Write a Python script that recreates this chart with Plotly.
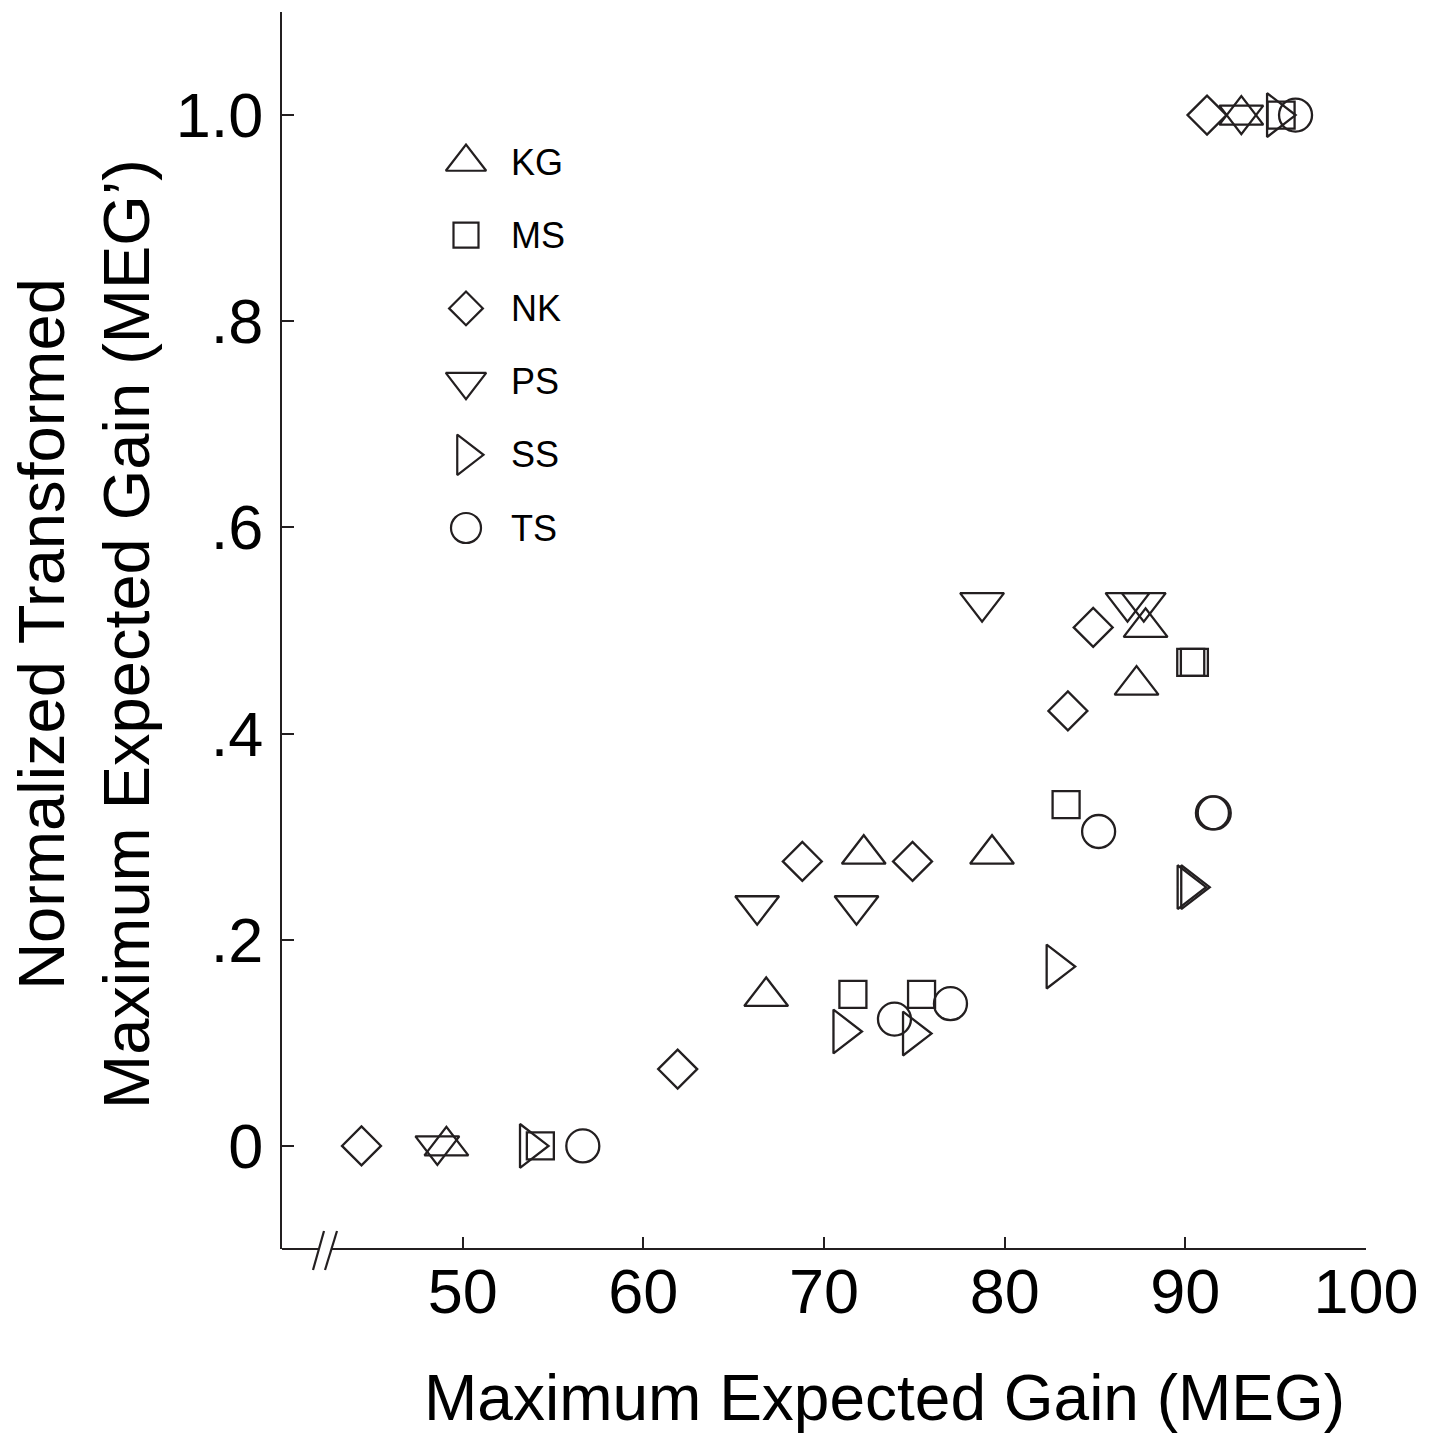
import plotly.graph_objects as go

# ---- data ----
subjects = ["KG", "MS", "NK", "PS", "SS", "TS"]
symbols = ["triangle-up-open", "square-open", "diamond-open",
           "triangle-down-open", "triangle-right-open", "circle-open"]
sizes = [38, 27, 30, 38, 38, 33]

kg_x = [49.1, 66.8, 72.2, 79.3, 87.3, 87.8, 93.1]
kg_y = [0.0, 0.145, 0.283, 0.283, 0.447, 0.503, 1.0]
ms_x = [54.3, 71.6, 75.4, 83.4, 90.3, 90.5, 95.3]
ms_y = [0.0, 0.147, 0.147, 0.331, 0.469, 0.469, 1.0]
nk_x = [44.4, 61.9, 68.8, 74.9, 83.5, 84.9, 91.2]
nk_y = [0.0, 0.0745, 0.276, 0.276, 0.422, 0.503, 1.0]
ps_x = [48.6, 66.3, 71.8, 78.75, 86.8, 87.7, 93.1]
ps_y = [0.0, 0.233, 0.233, 0.527, 0.527, 0.527, 1.0]
ss_x = [53.7, 71.05, 74.9, 82.85, 90.1, 90.3, 95.05]
ss_y = [0.0, 0.111, 0.109, 0.174, 0.251, 0.251, 1.0]
ts_x = [56.65, 73.9, 77.0, 85.2, 91.5, 91.6, 96.1]
ts_y = [0.0, 0.123, 0.138, 0.305, 0.323, 0.323, 1.0]

xs = [kg_x, ms_x, nk_x, ps_x, ss_x, ts_x]
ys = [kg_y, ms_y, nk_y, ps_y, ss_y, ts_y]

x_ticks = [50, 60, 70, 80, 90, 100]
x_ticklabels = ["50", "60", "70", "80", "90", "100"]
y_ticks = [0, 0.2, 0.4, 0.6, 0.8, 1.0]
y_ticklabels = ["0", ".2", ".4", ".6", ".8", "1.0"]

INK = "#231f20"
FONT = "Liberation Sans, Arial, sans-serif"

fig = go.Figure()

for name, sym, sz, x, y in zip(subjects, symbols, sizes, xs, ys):
    fig.add_trace(go.Scatter(
        x=x, y=y, mode="markers", name=name, showlegend=False,
        marker=dict(symbol=sym, size=sz, color=INK, line=dict(width=2.3, color=INK)),
    ))

# custom legend on an overlay pixel-scaled axis
leg_x_marker = 466
leg_x_text = 509
leg_y0 = 162
leg_dy = 73.2
leg_sizes = [35, 25, 26, 35, 35, 30]
for i, (name, sym, sz) in enumerate(zip(subjects, symbols, leg_sizes)):
    yy = leg_y0 + i * leg_dy
    fig.add_trace(go.Scatter(
        x=[leg_x_marker], y=[yy], xaxis="x2", yaxis="y2", mode="markers",
        showlegend=False, hoverinfo="skip",
        marker=dict(symbol=sym, size=sz, color=INK, line=dict(width=2.2, color=INK)),
    ))
    fig.add_annotation(x=leg_x_text, y=yy, xref="x2", yref="y2", text=name,
                       showarrow=False, xanchor="left", yanchor="middle",
                       font=dict(family=FONT, size=36, color="black"))

W, H = 1455, 1436
L, R, T, B = 282, 89, 12, 187
pw = W - L - R
ph = H - T - B

def px(xpix):
    return (xpix - L) / pw

def py(ypix):
    return (H - B - ypix) / ph

# x-axis line with break
fig.add_shape(type="line", xref="paper", yref="paper", x0=0, x1=px(318), y0=0, y1=0,
              line=dict(color=INK, width=2.2))
fig.add_shape(type="line", xref="paper", yref="paper", x0=px(332), x1=1, y0=0, y1=0,
              line=dict(color=INK, width=2.2))
fig.add_shape(type="line", xref="paper", yref="paper", x0=px(313), y0=py(1270),
              x1=px(324), y1=py(1231), line=dict(color=INK, width=2.2))
fig.add_shape(type="line", xref="paper", yref="paper", x0=px(325), y0=py(1270),
              x1=px(337), y1=py(1231), line=dict(color=INK, width=2.2))

# axis titles
fig.add_annotation(xref="paper", yref="paper", x=px(884), y=py(1398),
                   text="Maximum Expected Gain (MEG)", showarrow=False,
                   xanchor="center", yanchor="middle",
                   font=dict(family=FONT, size=64, color="black"))
fig.add_annotation(xref="paper", yref="paper", x=px(84), y=py(634),
                   text="Normalized Transformed<br>Maximum Expected Gain (MEG’)",
                   showarrow=False, textangle=-90, xanchor="center", yanchor="middle",
                   font=dict(family=FONT, size=65, color="black"))

fig.update_layout(
    width=W, height=H,
    margin=dict(l=L, r=R, t=T, b=B),
    paper_bgcolor="white", plot_bgcolor="white",
    font=dict(family=FONT, color="black"),
    xaxis=dict(range=[40, 100], tickvals=x_ticks, ticktext=x_ticklabels,
               ticks="inside", ticklen=12, tickwidth=2, tickcolor=INK,
               showline=False, showgrid=False, zeroline=False,
               tickfont=dict(family=FONT, size=63, color="black")),
    yaxis=dict(range=[-0.1, 1.1], tickvals=y_ticks, ticktext=y_ticklabels,
               ticks="inside", ticklen=12, tickwidth=2, tickcolor=INK,
               showline=True, linecolor=INK, linewidth=2.2,
               showgrid=False, zeroline=False, ticklabelstandoff=4,
               tickfont=dict(family=FONT, size=63, color="black")),
    xaxis2=dict(range=[L, W - R], overlaying="x", visible=False, fixedrange=True),
    yaxis2=dict(range=[H - B, T], overlaying="y", visible=False, fixedrange=True),
)

fig.write_html("out.html")
